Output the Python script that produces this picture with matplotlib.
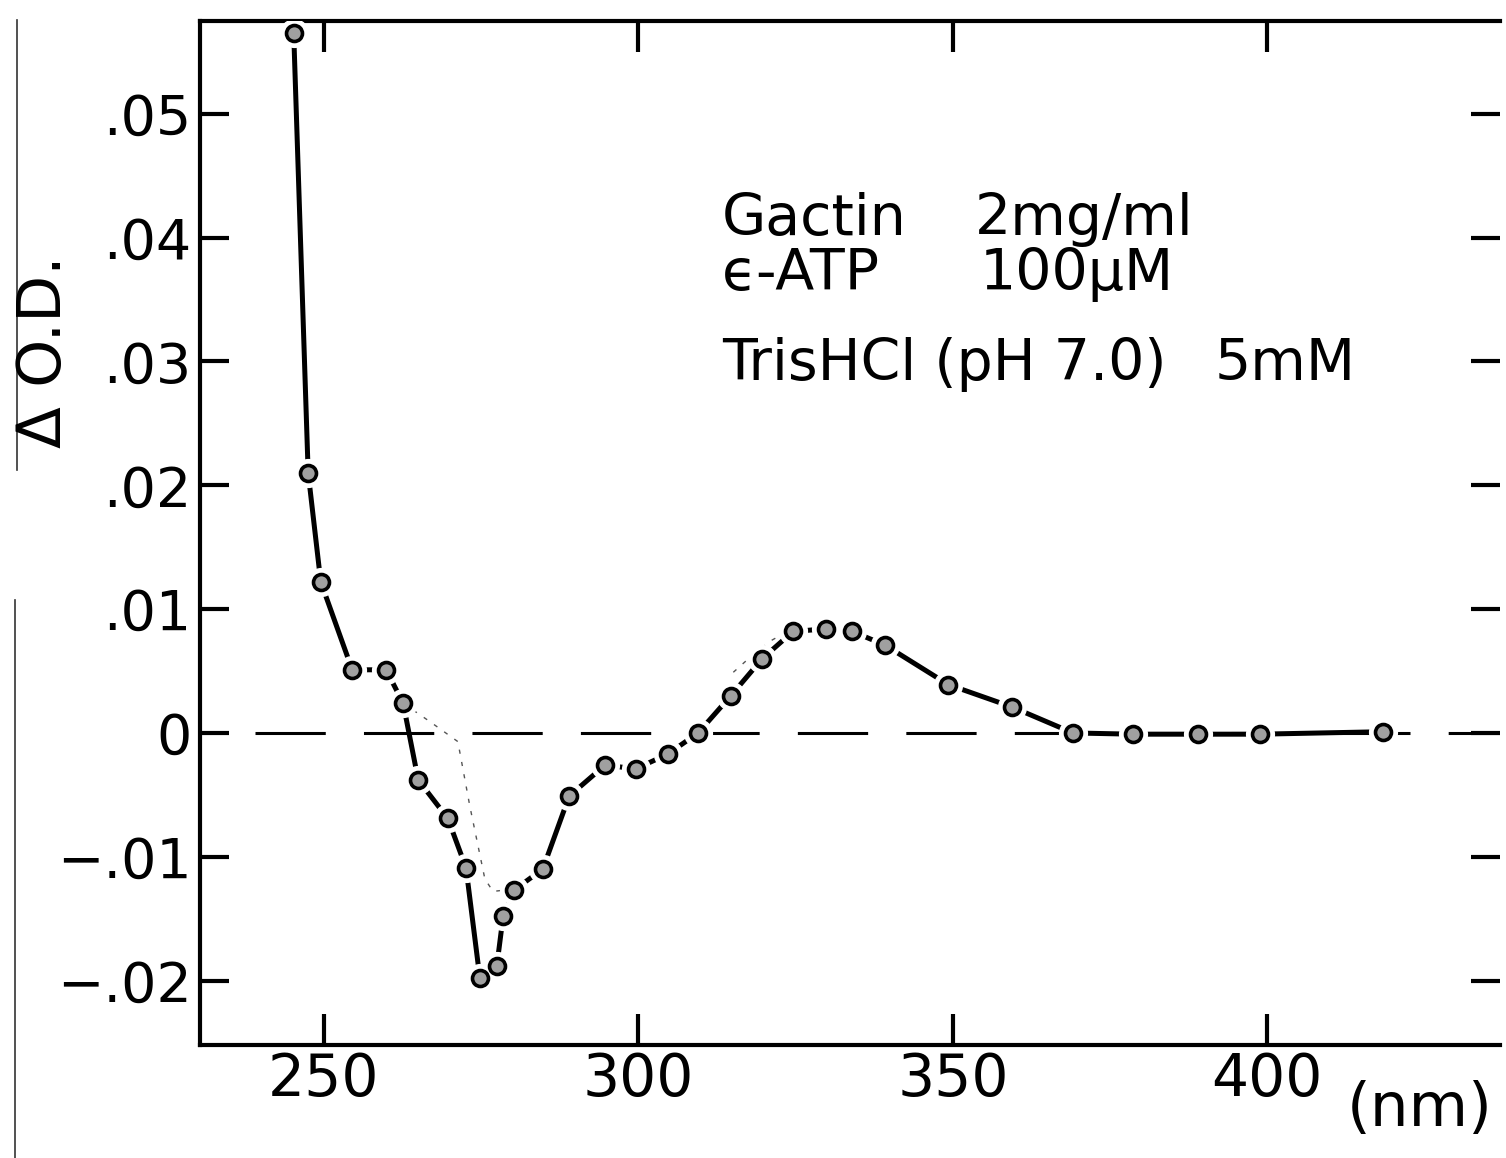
import numpy as np
import matplotlib
matplotlib.use('Agg')
import matplotlib.pyplot as plt
from matplotlib.lines import Line2D

# wavelength (nm) and difference absorbance
wl = [245.2, 247.5, 249.5, 254.5, 259.9, 262.6, 265.0, 269.7, 272.6, 274.8,
      277.5, 278.5, 280.2, 284.8, 289.0, 294.7, 299.6, 304.7, 309.5, 314.7,
      319.7, 324.6, 329.8, 334.0, 339.2, 349.3, 359.4, 369.1, 378.7, 389.0,
      398.8, 418.4]
dod = [0.0565, 0.0210, 0.0122, 0.0051, 0.0051, 0.0024, -0.0038, -0.0069, -0.0109, -0.0198,
       -0.0188, -0.0148, -0.0127, -0.0110, -0.0051, -0.0026, -0.0029, -0.0017, 0.0000, 0.0030,
       0.0060, 0.0082, 0.0084, 0.0082, 0.0071, 0.0039, 0.0021, 0.0000, -0.0001, -0.0001,
       -0.0001, 0.0001]

# faint pencil curves under the main trace
faint1_wl = [262.6, 266.9, 271.3, 273.2, 275.6, 276.9, 280.2]
faint1_od = [0.0024, 0.0009, -0.0007, -0.0059, -0.0118, -0.0128, -0.0126]
faint2_wl = [315.1, 317.3, 320.9, 324.1]
faint2_od = [0.0049, 0.0059, 0.0074, 0.0083]

xticks = [250, 300, 350, 400]
yticks = [0.05, 0.04, 0.03, 0.02, 0.01, 0.0, -0.01, -0.02]
ylabels = ['.05', '.04', '.03', '.02', '.01', '0', '\u2212.01', '\u2212.02']

plt.rcParams['font.family'] = ['DejaVu Sans']

fig = plt.figure(figsize=(15.06, 11.58), dpi=100)
ax = fig.add_axes([0.1328, 0.0976, 0.8632, 0.8843])

ax.set_xlim(230.3, 437)
ax.set_ylim(-0.0252, 0.0575)

# zero line
ax.axhline(0, xmin=0.042, xmax=1.0, color='black', lw=2.2, dashes=(23, 12.5))

# faint dotted curves
ax.plot(faint1_wl, faint1_od, color='#555555', lw=1.0, ls=(0, (3, 6)))
ax.plot(faint2_wl, faint2_od, color='#555555', lw=1.0, ls=(0, (3, 6)))

# main trace, with white halo round each point
ax.plot(wl, dod, color='black', lw=3.6, solid_capstyle='round', zorder=3)
ax.plot(wl, dod, ls='none', marker='o', ms=20, mfc='white', mec='white', zorder=4)
ax.plot(wl, dod, ls='none', marker='o', ms=11.5, mfc='#a0a0a0', mec='black',
        mew=2.6, zorder=5)

ax.set_xticks(xticks)
ax.set_xticklabels([str(v) for v in xticks])
ax.set_yticks(yticks)
ax.set_yticklabels(ylabels)

ax.tick_params(axis='x', direction='in', top=True, bottom=True, length=22, width=3,
               labelsize=42, pad=4)
ax.tick_params(axis='y', direction='in', left=True, right=True, length=21, width=3,
               labelsize=40, pad=6)

ax.spines['right'].set_visible(False)
for s in ['left', 'top', 'bottom']:
    ax.spines[s].set_linewidth(3)

fig.text(45 / 1506, 1 - 352 / 1158, '\u0394 O.D.', rotation=90, fontsize=44,
         ha='center', va='center')
fig.text(1420 / 1506, 1 - 1110 / 1158, '(nm)', fontsize=44, ha='center', va='center')

# legend text block
fs = 41
fig.text(722 / 1506, 1 - 235 / 1158, 'Gactin', fontsize=fs, va='baseline')
fig.text(975 / 1506, 1 - 235 / 1158, '2mg/ml', fontsize=fs, va='baseline')
fig.text(722 / 1506, 1 - 290 / 1158, '\u03f5-ATP', fontsize=fs, va='baseline')
fig.text(980 / 1506, 1 - 290 / 1158, '100\u03bcM', fontsize=fs, va='baseline')
fig.text(722 / 1506, 1 - 380 / 1158, 'TrisHCl (pH 7.0)', fontsize=fs, va='baseline')
fig.text(1215 / 1506, 1 - 380 / 1158, '5mM', fontsize=fs, va='baseline')

# page edge from the scan
fig.add_artist(Line2D([17 / 1506, 17 / 1506], [1 - 20 / 1158, 1 - 470 / 1158],
                      color='#333333', lw=1.2))
fig.add_artist(Line2D([15 / 1506, 15 / 1506], [1 - 600 / 1158, 0], color='#333333', lw=1.2))

fig.savefig('out.png', dpi=100)
